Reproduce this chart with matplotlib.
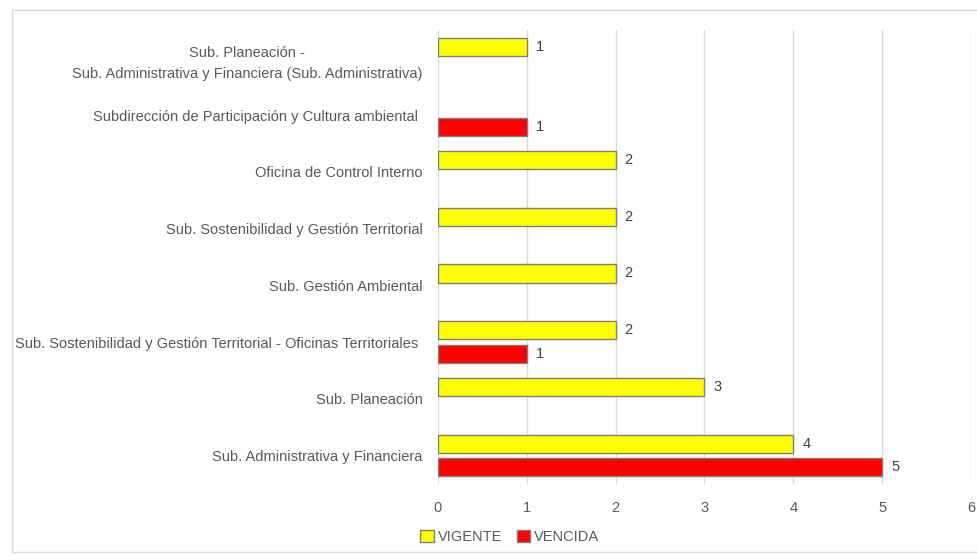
import numpy as np
import matplotlib.pyplot as plt
from matplotlib.patches import Rectangle

# datos (de abajo hacia arriba)
categorias = [
    'Sub. Administrativa y Financiera',
    'Sub. Planeación',
    'Sub. Sostenibilidad y Gestión Territorial - Oficinas Territoriales ',
    'Sub. Gestión Ambiental',
    'Sub. Sostenibilidad y Gestión Territorial',
    'Oficina de Control Interno',
    'Subdirección de Participación y Cultura ambiental ',
    'Sub. Planeación -\nSub. Administrativa y Financiera (Sub. Administrativa)',
]
vigente = [4, 3, 2, 2, 2, 2, np.nan, 1]
vencida = [5, np.nan, 1, np.nan, np.nan, np.nan, 1, np.nan]
x_ticks = [0, 1, 2, 3, 4, 5, 6]

plt.rcParams['font.family'] = ['Liberation Sans', 'DejaVu Sans']

fig = plt.figure(figsize=(9.77, 5.6), dpi=100)
ax = fig.add_axes([0.448, 0.136, 0.546, 0.810])

y = np.arange(len(categorias))
h = 0.32
off = 0.21
ax.barh(y + off, vigente, height=h, color='#FFFF00', edgecolor='#7F7F7F', linewidth=1, label='VIGENTE', zorder=3)
ax.barh(y - off, vencida, height=h, color='#FF0000', edgecolor='#7F7F7F', linewidth=1, label='VENCIDA', zorder=3)

# etiquetas de valores
for i in range(len(categorias)):
    for vals, d in ((vigente, off), (vencida, -off)):
        v = vals[i]
        if not np.isnan(v):
            ax.text(v + 0.1, y[i] + d, f'{v:g}', va='center', ha='left', fontsize=10.5, color='#404040')

ax.set_xlim(0, 6)
ax.set_ylim(-0.5, len(categorias) - 0.5)
ax.set_xticks(x_ticks)
ax.set_yticks(y)
ax.set_yticklabels(categorias, multialignment='center', linespacing=1.6)
ax.tick_params(axis='both', length=0, labelsize=10.5, labelcolor='#595959')
ax.tick_params(axis='y', pad=11)
ax.tick_params(axis='x', pad=12)
ax.grid(axis='x', color='#D9D9D9', linewidth=1, zorder=0)
for s in ax.spines.values():
    s.set_visible(False)

fig.legend(loc='lower center', bbox_to_anchor=(0.522, 0.005), ncol=2, frameon=False, fontsize=10.5,
           handlelength=0.9, handleheight=0.9, handletextpad=0.3, columnspacing=1.0,
           labelcolor='#595959')

# borde exterior
fig.patches.append(Rectangle((0.012, 0.015), 0.99, 0.967, transform=fig.transFigure,
                             fill=False, edgecolor='#D9D9D9', linewidth=1))

plt.savefig('out.png', dpi=100)
